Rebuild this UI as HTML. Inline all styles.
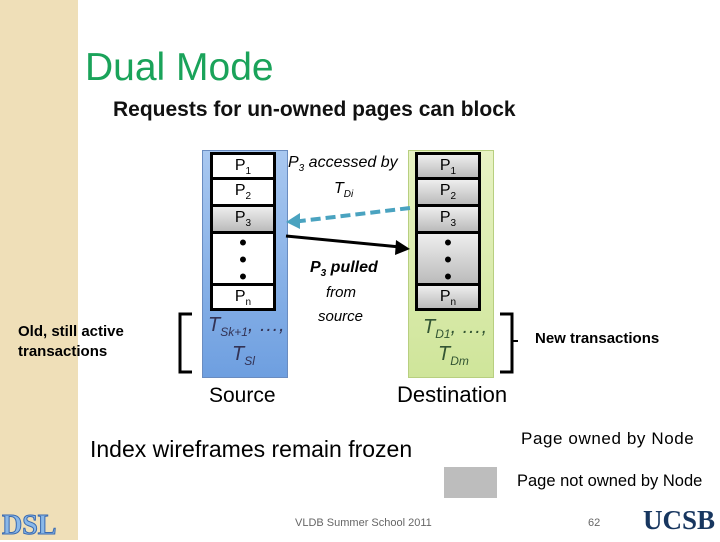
<!DOCTYPE html>
<html><head><style>
body{margin:0;width:720px;height:540px;position:relative;background:#fff;font-family:"Liberation Sans",sans-serif;overflow:hidden}
.a{position:absolute}
.cell{position:absolute;left:0;width:66px;border:3px solid #000;box-sizing:border-box;text-align:center;font-size:16px;line-height:22px;background:#fff}
.g{background:linear-gradient(#eee,#bbb)}
.t{position:absolute;white-space:nowrap}
</style></head><body>
<div class="a" style="left:0;top:0;width:78px;height:540px;background:#efdfb8"></div>
<div class="t" style="left:85px;top:46px;font-size:39px;color:#1aa35a">Dual Mode</div>
<div class="t" style="left:113px;top:98px;font-size:21px;font-weight:bold;color:#111">Requests for un-owned pages can block</div>

<div class="a" style="left:202px;top:150px;width:84px;height:226px;background:linear-gradient(#a9c8f0,#6e9fe0);border:1px solid #6a8cc0"></div>
<div class="a" style="left:210px;top:152px;width:70px;height:160px;">
<div class="cell" style="top:0;height:28px">P<sub style="font-size:10px">1</sub></div>
<div class="cell" style="top:25px;height:30px">P<sub style="font-size:10px">2</sub></div>
<div class="cell g" style="top:52px;height:30px">P<sub style="font-size:10px">3</sub></div>
<div class="cell" style="top:79px;height:55px;line-height:17px;font-size:22px">•<br>•<br>•</div>
<div class="cell" style="top:131px;height:28px">P<sub style="font-size:10px">n</sub></div>
</div>
<div class="t" style="left:208px;top:314px;font-size:20px;font-style:italic;color:#335">T<sub style="font-size:12px">Sk+1</sub>, …,</div>
<div class="t" style="left:232px;top:343px;font-size:20px;font-style:italic;color:#335">T<sub style="font-size:12px">Sl</sub></div>

<div class="a" style="left:408px;top:150px;width:84px;height:226px;background:linear-gradient(#e8f3c4,#cfe59a);border:1px solid #b8cf80"></div>
<div class="a" style="left:415px;top:152px;width:70px;height:160px;">
<div class="cell g" style="top:0;height:28px">P<sub style="font-size:10px">1</sub></div>
<div class="cell g" style="top:25px;height:30px">P<sub style="font-size:10px">2</sub></div>
<div class="cell g" style="top:52px;height:30px">P<sub style="font-size:10px">3</sub></div>
<div class="cell g" style="top:79px;height:55px;line-height:17px;font-size:22px">•<br>•<br>•</div>
<div class="cell g" style="top:131px;height:28px">P<sub style="font-size:10px">n</sub></div>
</div>
<div class="t" style="left:423px;top:316px;font-size:20px;font-style:italic;color:#353">T<sub style="font-size:12px">D1</sub>, …,</div>
<div class="t" style="left:438px;top:343px;font-size:20px;font-style:italic;color:#353">T<sub style="font-size:12px">Dm</sub></div>

<svg class="a" style="left:0;top:0" width="720" height="540">
<line x1="410" y1="208" x2="292" y2="222" stroke="#4aa3c0" stroke-width="4" stroke-dasharray="10,5"/>
<polygon points="286,222 300,213 300,229" fill="#4aa3c0"/>
<line x1="286" y1="236" x2="400" y2="247" stroke="#000" stroke-width="3"/>
<polygon points="410,249 396,240 395,255" fill="#000"/>
<path d="M192,314 H180 V372 H192" fill="none" stroke="#000" stroke-width="3"/>
<path d="M500,314 H512 V372 H500" fill="none" stroke="#000" stroke-width="3"/>
<line x1="512" y1="341" x2="518" y2="341" stroke="#000" stroke-width="2"/>
</svg>

<div class="t" style="left:288px;top:154px;font-size:16px;font-style:italic">P<sub style="font-size:10px">3</sub> accessed by</div>
<div class="t" style="left:334px;top:180px;font-size:16px;font-style:italic">T<sub style="font-size:10px">Di</sub></div>
<div class="t" style="left:310px;top:259px;font-size:16px;font-style:italic;font-weight:bold">P<sub style="font-size:10px">3</sub> pulled</div>
<div class="t" style="left:326px;top:284px;font-size:15px;font-style:italic">from</div>
<div class="t" style="left:318px;top:308px;font-size:15px;font-style:italic">source</div>

<div class="t" style="left:18px;top:322px;font-size:15px;line-height:20px;font-weight:bold">Old, still active<br>transactions</div>
<div class="t" style="left:535px;top:330px;font-size:15px;font-weight:bold">New transactions</div>
<div class="t" style="left:209px;top:384px;font-size:21px">Source</div>
<div class="t" style="left:397px;top:382px;font-size:22px">Destination</div>
<div class="t" style="left:90px;top:436px;font-size:23px">Index wireframes remain frozen</div>
<div class="t" style="left:521px;top:429px;font-size:17px;letter-spacing:0.6px">Page owned by Node</div>
<div class="a" style="left:444px;top:467px;width:53px;height:31px;background:#bdbdbd"></div>
<div class="t" style="left:517px;top:472px;font-size:16.5px">Page not owned by Node</div>
<div class="t" style="left:295px;top:517px;font-size:11px;color:#666">VLDB Summer School 2011</div>
<div class="t" style="left:588px;top:517px;font-size:11px;color:#666">62</div>
<div class="t" style="left:2px;top:510px;font-size:28px;font-weight:bold;font-family:'Liberation Serif',serif;color:#8ab8e8;-webkit-text-stroke:1px #3a6ab0">DSL</div>
<div class="t" style="left:643px;top:505px;font-size:27px;font-weight:bold;font-family:'Liberation Serif',serif;color:#17365f">UCSB</div>
</body></html>
